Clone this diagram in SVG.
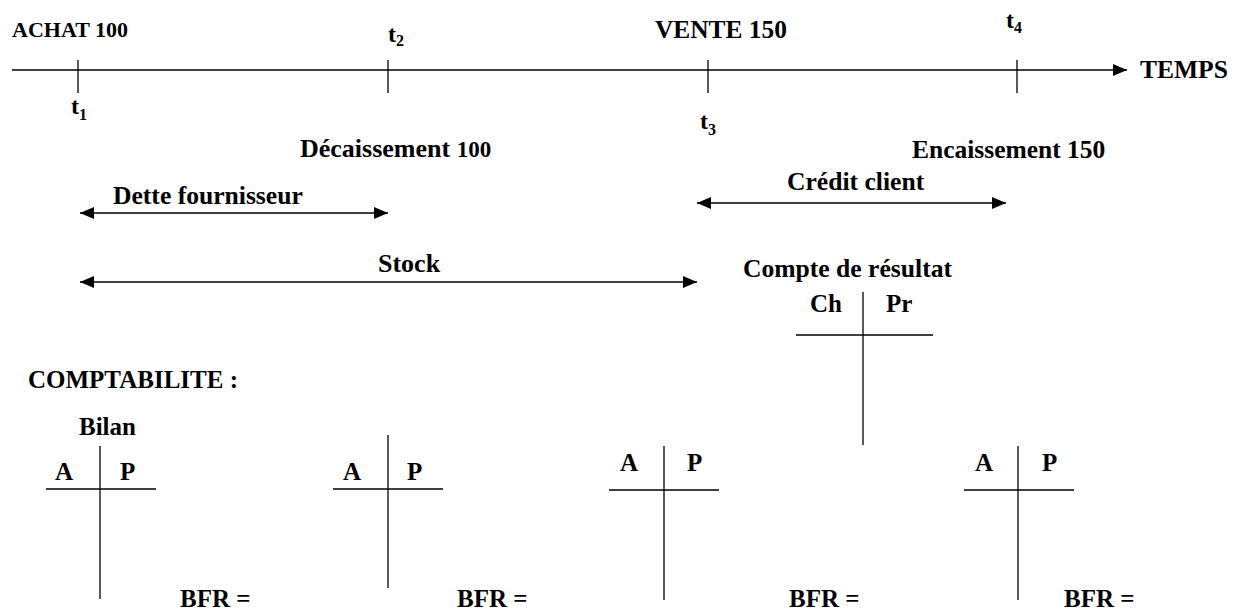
<svg xmlns="http://www.w3.org/2000/svg" width="1242" height="612" viewBox="0 0 1242 612">
<style>
.l{stroke:#000;stroke-width:1.3;fill:none}
.t{font-size:24px}
.s{font-size:16px}
.m{font-size:25px}
</style>
<defs>
<marker id="ah" markerUnits="userSpaceOnUse" markerWidth="15" markerHeight="13" refX="14" refY="6.5" orient="auto-start-reverse">
<path d="M0,0.5 L14,6.5 L0,12.5 z" fill="#000"/>
</marker>
</defs>
<g id="connectors">
<line class="l" x1="12" y1="70" x2="1127" y2="70" marker-end="url(#ah)"/>
<line class="l" x1="80" y1="213" x2="388" y2="213" marker-start="url(#ah)" marker-end="url(#ah)"/>
<line class="l" x1="80" y1="282" x2="697" y2="282" marker-start="url(#ah)" marker-end="url(#ah)"/>
<line class="l" x1="697" y1="203" x2="1006" y2="203" marker-start="url(#ah)" marker-end="url(#ah)"/>
</g>
<g font-family="'Liberation Serif', 'Times New Roman', Times, serif" font-weight="bold" fill="#000">
<g id="timeline">
<line class="l" x1="78" y1="60" x2="78" y2="93"/>
<line class="l" x1="388" y1="60" x2="388" y2="93"/>
<line class="l" x1="708" y1="60" x2="708" y2="93"/>
<line class="l" x1="1017" y1="60" x2="1017" y2="93"/>
<text x="12" y="37" font-size="22">ACHAT 100</text>
<text x="655" y="38" font-size="25.4">VENTE 150</text>
<text x="1140" y="78" font-size="25.5">TEMPS</text>
<text x="71" y="114" class="t">t<tspan class="s" dy="6">1</tspan></text>
<text x="388" y="42" class="t">t<tspan class="s" dy="4">2</tspan></text>
<text x="700" y="129" class="t">t<tspan class="s" dy="6">3</tspan></text>
<text x="1006" y="28" class="t">t<tspan class="s" dy="5">4</tspan></text>
</g>
<g id="flux">
<text x="300" y="157" font-size="26">Décaissement <tspan font-size="23">100</tspan></text>
<text x="912" y="158" font-size="25.5">Encaissement 150</text>
<text x="113" y="204" font-size="25.6">Dette fournisseur</text>
<text x="787" y="190" font-size="25.6">Crédit client</text>
<text x="378" y="272" font-size="26">Stock</text>
</g>
<g id="compte-resultat">
<text x="743" y="277" font-size="25.6">Compte de résultat</text>
<text x="810" y="312" class="m">Ch</text>
<text x="886" y="312" class="m">Pr</text>
<line class="l" x1="863" y1="292" x2="863" y2="445"/>
<line class="l" x1="796" y1="335" x2="933" y2="335"/>
</g>
<text x="28" y="388" font-size="25">COMPTABILITE :</text>
<g id="bilan1">
<text x="79" y="435" class="m">Bilan</text>
<text x="55" y="480" class="m">A</text>
<text x="120" y="480" class="m">P</text>
<line class="l" x1="100" y1="446" x2="100" y2="599"/>
<line class="l" x1="46" y1="489" x2="156" y2="489"/>
<text x="180" y="607" class="m">BFR =</text>
</g>
<g id="bilan2">
<text x="343" y="480" class="m">A</text>
<text x="407" y="480" class="m">P</text>
<line class="l" x1="388" y1="435" x2="388" y2="588"/>
<line class="l" x1="333" y1="489" x2="443" y2="489"/>
<text x="457" y="607" class="m">BFR =</text>
</g>
<g id="bilan3">
<text x="620" y="471" class="m">A</text>
<text x="687" y="471" class="m">P</text>
<line class="l" x1="664" y1="446" x2="664" y2="600"/>
<line class="l" x1="609" y1="490" x2="719" y2="490"/>
<text x="789" y="607" class="m">BFR =</text>
</g>
<g id="bilan4">
<text x="975" y="471" class="m">A</text>
<text x="1042" y="471" class="m">P</text>
<line class="l" x1="1018" y1="446" x2="1018" y2="600"/>
<line class="l" x1="964" y1="490" x2="1074" y2="490"/>
<text x="1064" y="607" class="m">BFR =</text>
</g>
</g>
</svg>
